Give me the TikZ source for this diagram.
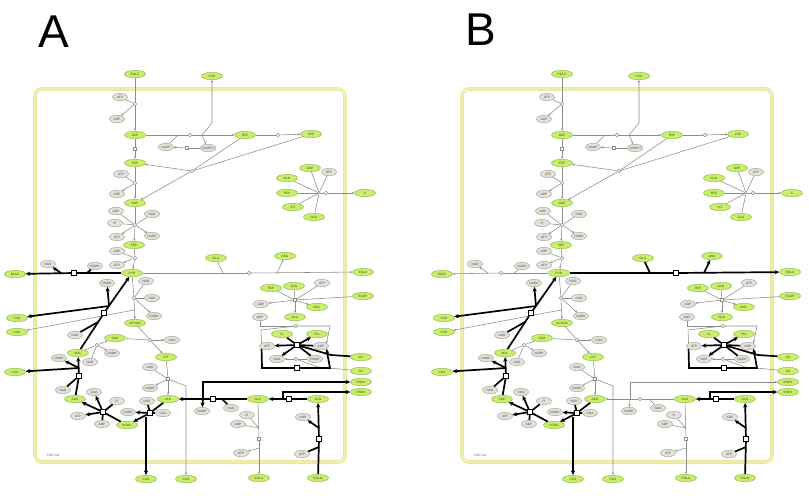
\documentclass[tikz,border=0pt]{standalone}
\usepackage{fontspec}
\setmainfont{Liberation Sans}
\usetikzlibrary{shapes.geometric,arrows.meta}
\definecolor{mgfill}{HTML}{C9EE6C}
\definecolor{mgdraw}{HTML}{86B33C}
\definecolor{cofill}{HTML}{E2E2D8}
\definecolor{codraw}{HTML}{9A9A92}
\definecolor{lnc}{HTML}{8C8C8C}
\definecolor{cellc}{HTML}{E8E89C}
\definecolor{celli}{HTML}{F7F7D6}
\definecolor{txtc}{HTML}{3A4A20}
\pgfdeclarelayer{paper}
\pgfdeclarelayer{cellbg}
\pgfdeclarelayer{edges}
\pgfsetlayers{paper,cellbg,edges,main}
\tikzset{
  met/.style={ellipse, draw=mgdraw, fill=mgfill, line width=0.4pt, minimum width=21pt,
    minimum height=7.5pt, inner sep=0pt, font=\fontsize{3.2}{3.4}\selectfont, text=txtc},
  cof/.style={met, draw=codraw, fill=cofill, minimum width=15pt, text=black!70},
  rc/.style={circle, draw=lnc, fill=white, line width=0.45pt, minimum size=3.6pt, inner sep=0pt},
  rs/.style={rectangle, draw=lnc, fill=white, line width=0.45pt, minimum size=3.4pt, inner sep=0pt},
  rk/.style={rectangle, draw=black, fill=white, line width=0.9pt, minimum size=4.4pt, inner sep=0pt},
  tl/.style={draw=lnc, line width=0.55pt},
  tla/.style={tl, -{Stealth[length=2.6pt,width=2.2pt]}},
  kl/.style={draw=black, line width=1.7pt},
  kla/.style={kl, -{Stealth[length=4.6pt,width=4.2pt]}},
}
% one copy of the CHO network; ldh/alt/gdh styles are set per panel
\newcommand\chonet{%
  \begin{pgfonlayer}{cellbg}
    \draw[cellc, line width=3.6pt, rounded corners=7pt] (35,89) rectangle (345,462);
    \draw[celli, line width=0.9pt, rounded corners=7pt] (35,89) rectangle (345,462);
  \end{pgfonlayer}
  \node[font=\fontsize{3.2}{3.4}\selectfont, text=black!60, anchor=west] (lbl) at (43,455) {CHO cell};
  % glycolysis
  \node[met] (eglc) at (135,74) {EGLC};
  \node[cof] (atp1) at (120,97) {ATP};
  \node[rc] (rhk) at (135,104) {};
  \node[cof] (adp1) at (117,119) {ADP};
  \node[met] (g6p) at (135,135) {G6P};
  \node[rs] (rpgi) at (135,149) {};
  \node[met] (f6p) at (135,163) {F6P};
  \node[cof] (atp2) at (121,174) {ATP};
  \node[rc] (rpfk) at (135,183) {};
  \node[cof] (adp2) at (117,194) {ADP};
  \node[met] (gap) at (135,203) {GAP};
  \node[cof] (adp3) at (116,211) {ADP};
  \node[cof] (nad1) at (152,214) {NAD};
  \node[cof] (pi1) at (115,223) {Pi};
  \node[rc] (rgap) at (135,225) {};
  \node[cof] (atp3) at (117,237) {ATP};
  \node[cof] (nadh1) at (152,236) {NADH};
  \node[met] (pep) at (134,245) {PEP};
  \node[cof] (adp4) at (117,251) {ADP};
  \node[rc] (rpk) at (135,258) {};
  \node[cof] (atp4) at (117,265) {ATP};
  \node[met] (pyr) at (132,273) {PYR};
  % lactate and malic enzyme
  \node[met] (elac) at (15,274) {ELAC};
  \node[cof] (nad2) at (48,264) {NAD};
  \node[ldhn] (rldh) at (74,273) {};
  \node[cof] (nadh2) at (95,266) {NADH};
  \coordinate (jl1) at (87,273);
  \coordinate (jl2) at (61,273);
  \node[cof] (nadh3) at (107,283) {NADH};
  \node[met] (co2a) at (17,318) {CO2};
  \node[met] (co2b) at (17,332) {CO2};
  \node[cof] (nad3) at (75,335) {NAD};
  \node[rk] (rme) at (104,313) {};
  \coordinate (jme) at (109,306);
  \coordinate (jme0) at (98,322);
  % pyruvate dehydrogenase, TCA cycle
  \node[cof] (nad4) at (146,281) {NAD};
  \node[rc] (rpdh) at (134,298) {};
  \node[cof] (coa1) at (152,298) {COA};
  \node[cof] (nadh4) at (154,316) {NADH};
  \node[met] (accoa) at (135,323) {ACCOA};
  \coordinate (jpd) at (134,310);
  \node[met] (oaa) at (115,338) {OAA};
  \node[rc] (rcs) at (150,340) {};
  \node[cof] (coa2) at (172,340) {COA};
  \node[met] (cit) at (166,357) {CIT};
  \node[met] (mal) at (78,353) {MAL};
  \node[rc] (rmdh) at (97,345) {};
  \node[cof] (nadh5) at (112,353) {NADH};
  \node[cof] (nad5) at (90,362) {NAD};
  \node[cof] (nadh6) at (59,358) {NADH};
  \node[met] (co2c) at (15,372) {CO2};
  \coordinate (jsd) at (79,368);
  \node[rk] (rsdh) at (79,376) {};
  \node[cof] (nad6) at (63,390) {NAD};
  \node[met] (suc) at (75,399) {SUC};
  \node[cof] (coa3) at (94,392) {COA};
  \node[rk] (rscs) at (103,412) {};
  \node[cof] (pi2) at (117,401) {Pi};
  \node[cof] (atp5) at (78,416) {ATP};
  \node[cof] (adp5) at (102,424) {ADP};
  \node[met] (scoa) at (127,425) {SCOA};
  \node[met] (akg) at (168,399) {AKG};
  \node[cof] (nad8) at (147,401) {NAD};
  \node[rk] (rakg) at (150,413) {};
  \node[cof] (nadh8) at (128,412) {NADH};
  \node[cof] (coa4) at (163,413) {COA};
  \coordinate (jak) at (146,417);
  \node[met] (co2d) at (146,479) {CO2};
  \node[cof] (nad7) at (150,367) {NAD};
  \node[rs] (ridh) at (168,379) {};
  \node[cof] (nadh7) at (150,388) {NADH};
  \coordinate (jid) at (186,386);
  \node[met] (co2e) at (186,479) {CO2};
  % glutamate / glutamine
  \node[gdhn] (rgdh) at (213,399) {};
  \coordinate (jgd) at (203,399);
  \coordinate (jgd3) at (222,399);
  \node[cof] (nadh9) at (202,411) {NADH};
  \node[cof] (nad9) at (231,408) {NAD};
  \node[met] (glu) at (258,399) {GLU};
  \node[met] (enha) at (361,382) {ENH4};
  \node[met] (enhb) at (361,392) {ENH4};
  \node[rk] (rgls) at (289,399) {};
  \coordinate (jgl) at (283,399);
  \node[met] (gln) at (318,399) {GLN};
  \node[cof] (pi3) at (247,415) {Pi};
  \node[cof] (adp6) at (238,424) {ADP};
  \coordinate (jge) at (259,428);
  \node[rs] (rglu) at (259,439) {};
  \coordinate (jge2) at (259,448);
  \node[cof] (atp6) at (241,453) {ATP};
  \node[met] (eglu) at (259,478) {EGLU};
  \node[cof] (adp7) at (303,417) {ADP};
  \coordinate (jgn2) at (319,428);
  \node[rk] (rgln) at (319,439) {};
  \coordinate (jgn) at (319,447);
  \node[cof] (atp7) at (302,454) {ATP};
  \node[met] (egln) at (318,478) {EGLN};
  % alanine
  \node[met] (aglu) at (216,258) {GLU};
  \coordinate (jal1) at (223,273);
  \node[altn] (ralt) at (249,273) {};
  \coordinate (jal2) at (277,273);
  \node[met] (aakg) at (285,256) {AKG};
  \node[met] (eala) at (363,272) {EALA};
  % pentose phosphate pathway
  \node[met] (co2t) at (212,76) {CO2};
  \node[rc] (rppp) at (190,135) {};
  \coordinate (jpp0) at (178,135);
  \coordinate (jpp) at (202,135);
  \coordinate (jpp2) at (212,123);
  \node[cof] (nadp) at (166,147) {NADP};
  \node[rs] (rnadp) at (187,148) {};
  \node[cof] (nadph) at (208,148) {NADPH};
  \node[met] (r5p) at (245,135) {R5P};
  \node[rc] (rrpe) at (278,135) {};
  \node[met] (x5p) at (311,134) {X5P};
  \node[rc] (rtk) at (192,171) {};
  % biomass
  \node[met] (bg6p) at (310,168) {G6P};
  \node[cof] (batp) at (329,172) {ATP};
  \node[met] (bgln) at (287,178) {GLN};
  \node[met] (br5p) at (287,193) {R5P};
  \node[met] (bcit) at (293,207) {CIT};
  \node[met] (bglu) at (314,217) {GLU};
  \node[circle, fill=lnc, minimum size=1.6pt, inner sep=0pt] (rbio) at (319,193) {};
  \node[rc] (rbx) at (326,193) {};
  \node[met] (x) at (365,193) {X};
  % asparagine, adenylate and energy block
  \node[met] (sr5p) at (271,288) {R5P};
  \node[met] (sgln) at (294,286) {GLN};
  \node[cof] (satp) at (322,283) {ATP};
  \node[rs] (rasp) at (295,300) {};
  \node[met] (easp) at (363,296) {EASP};
  \node[cof] (sadp) at (261,304) {ADP};
  \node[met] (smal) at (317,307) {MAL};
  \node[met] (sglu) at (295,317) {GLU};
  \node[cof] (samp) at (260,317) {AMP};
  \node[rc] (ramp) at (296,326) {};
  \coordinate (jam3) at (261,330);
  \coordinate (jam4) at (330,326);
  \node[met] (cr) at (282,334) {Cr};
  \node[met] (pcr) at (317,334) {PCr};
  \node[cof] (oatp) at (267,346) {ATP};
  \node[rk] (rox) at (297,345) {};
  \node[cof] (oadp) at (321,346) {ADP};
  \node[cof] (onad) at (277,359) {NAD};
  \node[rc] (rnox) at (296,359) {};
  \node[cof] (onadh) at (315,359) {NADH};
  \node[met] (o2a) at (361,357) {O2};
  \node[met] (o2b) at (361,371) {O2};
  \node[rk] (rmain) at (297,368) {};
  \coordinate (jox) at (331,355);
  \coordinate (jnx) at (318,367);
  \coordinate (jm1) at (262,368);
  \coordinate (jm2) at (330,368);
  \begin{pgfonlayer}{edges}
    % glycolysis
    \draw[tl] (eglc) -- (rhk); \draw[tl] (atp1) -- (rhk);
    \draw[tla] (rhk) -- (g6p); \draw[tla] (rhk) -- (adp1);
    \draw[tl] (g6p) -- (rpgi); \draw[tla] (rpgi) -- (f6p);
    \draw[tl] (f6p) -- (rpfk); \draw[tl] (atp2) -- (rpfk);
    \draw[tla] (rpfk) -- (gap); \draw[tla] (rpfk) -- (adp2);
    \draw[tl] (gap) -- (rgap); \draw[tl] (adp3) -- (rgap); \draw[tl] (nad1) -- (rgap);
    \draw[tl] (pi1) -- (rgap); \draw[tla] (rgap) -- (pep); \draw[tla] (rgap) -- (atp3);
    \draw[tla] (rgap) -- (nadh1);
    \draw[tl] (pep) -- (rpk); \draw[tl] (adp4) -- (rpk);
    \draw[tla] (rpk) -- (pyr); \draw[tla] (rpk) -- (atp4);
    % lactate
    \draw[ldh] (pyr) -- (rldh); \draw[ldha] (rldh) -- (elac);
    \draw[ldh] (nadh2) -- (jl1); \draw[ldha] (jl2) -- (nad2);
    % malic enzyme
    \draw[kl] (mal) -- (rme); \draw[kla] (rme) -- (pyr);
    \draw[kla] (jme) -- (co2a); \draw[kla] (jme) -- (nadh3);
    \draw[kl] (nad3) -- (jme0);
    % pyruvate dehydrogenase
    \draw[tl] (pyr) -- (rpdh); \draw[tla] (rpdh) -- (accoa);
    \draw[tl] (nad4) -- (rpdh); \draw[tl] (coa1) -- (rpdh);
    \draw[tla] (rpdh) -- (nadh4); \draw[tla] (jpd) -- (co2b);
    % TCA cycle
    \draw[tl] (accoa) -- (rcs); \draw[tl] (oaa) -- (rcs);
    \draw[tla] (rcs) -- (cit); \draw[tla] (rcs) -- (coa2);
    \draw[tl] (mal) -- (rmdh); \draw[tla] (rmdh) -- (oaa);
    \draw[tl] (nad5) -- (rmdh); \draw[tla] (rmdh) -- (nadh5);
    \draw[tl] (cit) -- (ridh); \draw[tla] (ridh) -- (akg);
    \draw[tl] (nad7) -- (ridh); \draw[tla] (ridh) -- (nadh7);
    \draw[tla] (ridh) -- (jid) -- (co2e);
    \draw[kl] (akg) -- (rakg); \draw[kla] (rakg) -- (scoa);
    \draw[kl] (nad8) -- (rakg); \draw[kl] (coa4) -- (rakg);
    \draw[kla] (rakg) -- (nadh8); \draw[kla] (jak) -- (co2d);
    \draw[kl] (scoa) -- (rscs); \draw[kla] (rscs) -- (suc);
    \draw[kl] (adp5) -- (rscs); \draw[kl] (pi2) -- (rscs);
    \draw[kla] (rscs) -- (atp5); \draw[kla] (rscs) -- (coa3);
    \draw[kl] (suc) -- (rsdh); \draw[kla] (rsdh) -- (mal);
    \draw[kl] (nad6) -- (rsdh);
    \draw[kla] (jsd) -- (nadh6); \draw[kla] (jsd) -- (co2c);
    % glutamate dehydrogenase
    \draw[gdh] (glu) -- (rgdh); \draw[gdha] (rgdh) -- (akg);
    \draw[gdh] (nad9) -- (jgd3); \draw[gdha] (jgd) -- (nadh9);
    \draw[gdha] (jgd) |- (enha);
    % glutaminase
    \draw[kl] (gln) -- (rgls); \draw[kla] (rgls) -- (glu);
    \draw[kla] (jgl) |- (enhb);
    % glutamate export, glutamine uptake
    \draw[tl] (glu) -- (rglu); \draw[tla] (rglu) -- (eglu);
    \draw[tl] (pi3) -- (jge); \draw[tl] (adp6) -- (jge);
    \draw[tla] (jge2) -- (atp6);
    \draw[kl] (egln) -- (rgln); \draw[kla] (rgln) -- (gln);
    \draw[kl] (atp7) -- (jgn); \draw[kla] (jgn2) -- (adp7);
    % alanine transaminase
    \draw[alt] (pyr) -- (ralt); \draw[alta] (ralt) -- (eala);
    \draw[alt] (aglu) -- (jal1); \draw[alta] (jal2) -- (aakg);
    % pentose phosphate pathway
    \draw[tl] (g6p) -- (rppp) -- (jpp); \draw[tla] (jpp) -- (r5p);
    \draw[tla] (jpp) -- (nadph); \draw[tla] (jpp) -- (jpp2) -- (co2t);
    \draw[tl] (nadp) -- (jpp0);
    \draw[tl] (nadph) -- (rnadp); \draw[tla] (rnadp) -- (nadp);
    \draw[tl] (r5p) -- (rrpe); \draw[tla] (rrpe) -- (x5p);
    \draw[tl] (r5p) -- (rtk); \draw[tl] (x5p) -- (rtk);
    \draw[tla] (rtk) -- (f6p); \draw[tla] (rtk) -- (gap);
    % biomass
    \foreach \m in {bg6p,batp,bgln,br5p,bcit,bglu} \draw[tl] (\m) -- (rbio);
    \draw[tl] (rbio) -- (rbx); \draw[tla] (rbx) -- (x);
    % asparagine and adenylate kinase
    \draw[tl] (easp) -- (rasp); \draw[tl] (sr5p) -- (rasp);
    \draw[tl] (sgln) -- (rasp); \draw[tl] (satp) -- (rasp);
    \draw[tla] (rasp) -- (sadp); \draw[tla] (rasp) -- (smal); \draw[tla] (rasp) -- (sglu);
    \draw[tl] (samp) |- (ramp); \draw[tl] (oatp.north west) -- (jam3) -- (ramp);
    \draw[tla] (ramp) -- (jam4) -- (oadp.north east);
    % respiration and energy
    \draw[kl] (oadp) -- (rox); \draw[kla] (rox) -- (oatp);
    \draw[kl] (onadh) -- (rox); \draw[kla] (rox) -- (onad);
    \draw[kl] (o2a) -- (jox) -- (rox);
    \draw[kl] (cr) -- (rox); \draw[kla] (rox) -- (pcr);
    \draw[tl] (o2b) -- (jnx) -- (rnox); \draw[tla] (rnox) -- (onad);
    \draw[tl] (onadh) -- (rnox);
    \draw[kl] (oatp.south west) -- (jm1) -- (rmain);
    \draw[kla] (rmain) -- (jm2) -- (oadp.south east);
  \end{pgfonlayer}
}
\begin{document}
\begin{tikzpicture}[x=1pt, y=-1pt]
  \useasboundingbox (0,0) rectangle (809,499);
  \begin{pgfonlayer}{paper}
    \fill[white] (0,0) rectangle (809,499);
  \end{pgfonlayer}
  \node[font=\fontsize{46}{46}\selectfont, anchor=base west, inner sep=0pt] (labA) at (38,47) {A};
  \node[font=\fontsize{46}{46}\selectfont, anchor=base west, inner sep=0pt] (labB) at (465,45) {B};
  \begin{scope}[name prefix=a-,
      ldh/.style={kl}, ldha/.style={kla}, ldhn/.style={rk},
      alt/.style={tl}, alta/.style={tla}, altn/.style={rc},
      gdh/.style={kl}, gdha/.style={kla}, gdhn/.style={rk}]
    \chonet
  \end{scope}
  \begin{scope}[xshift=427pt, name prefix=b-,
      ldh/.style={tl}, ldha/.style={tla}, ldhn/.style={rc},
      alt/.style={kl}, alta/.style={kla}, altn/.style={rk},
      gdh/.style={tl}, gdha/.style={tla}, gdhn/.style={rc}]
    \chonet
  \end{scope}
\end{tikzpicture}
\end{document}
